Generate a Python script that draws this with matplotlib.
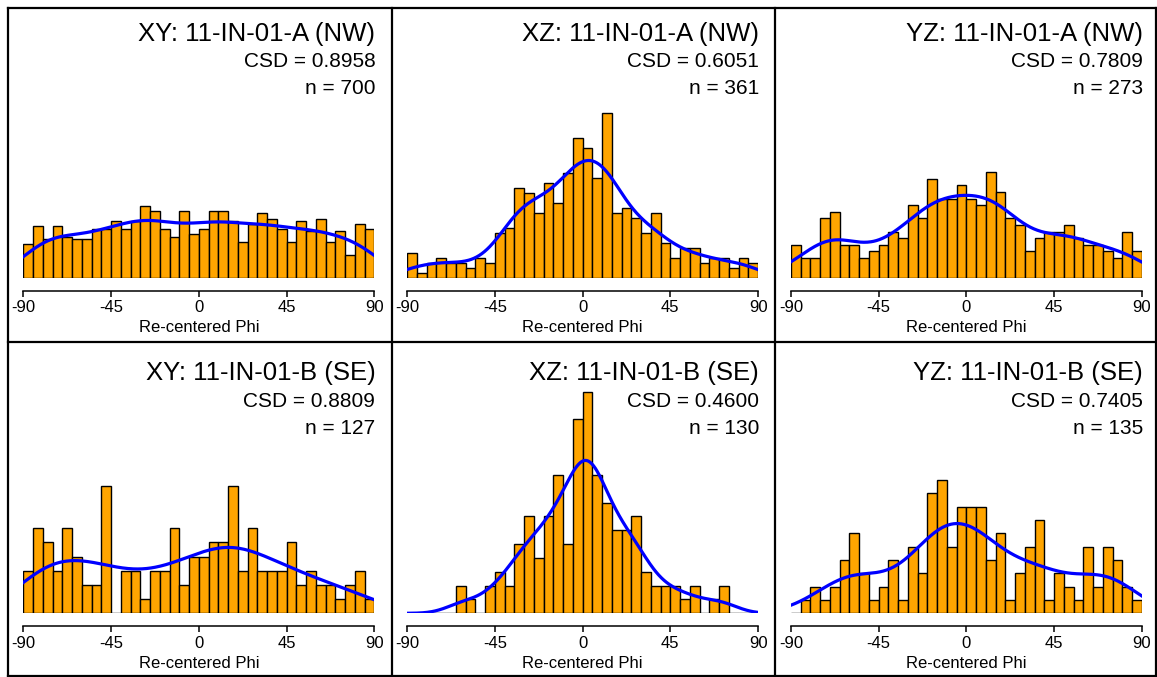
import numpy as np
import matplotlib
matplotlib.use("Agg")
import matplotlib.pyplot as plt
from matplotlib.lines import Line2D

plt.rcParams['font.family'] = ['Liberation Sans', 'DejaVu Sans']

# 5 degree bins from -90 to 90
bin_edges = np.arange(-90, 91, 5)
tick_values = [-90, -45, 0, 45, 90]

titles = ["XY: 11-IN-01-A (NW)", "XZ: 11-IN-01-A (NW)", "YZ: 11-IN-01-A (NW)",
          "XY: 11-IN-01-B (SE)", "XZ: 11-IN-01-B (SE)", "YZ: 11-IN-01-B (SE)"]
csd_values = ["0.8958", "0.6051", "0.7809", "0.8809", "0.4600", "0.7405"]
n_values = [700, 361, 273, 127, 130, 135]

counts_xy_a = [13, 20, 15, 20, 16, 15, 15, 19, 19, 22, 19, 22, 28, 26, 19, 16, 26, 17,
               19, 26, 26, 22, 14, 21, 25, 23, 19, 14, 22, 18, 23, 14, 18, 9, 21, 19]
counts_xz_a = [5, 1, 3, 4, 3, 3, 2, 4, 3, 9, 10, 18, 17, 13, 19, 15, 21, 28,
               26, 20, 33, 13, 14, 12, 9, 13, 7, 4, 6, 6, 3, 4, 4, 2, 4, 3]
counts_yz_a = [5, 3, 3, 9, 10, 5, 5, 3, 4, 5, 7, 6, 11, 9, 15, 12, 12, 14,
               12, 11, 16, 13, 9, 8, 4, 6, 7, 7, 8, 6, 5, 5, 4, 3, 7, 4]
counts_xy_b = [3, 6, 5, 3, 6, 4, 2, 2, 9, 0, 3, 3, 1, 3, 3, 6, 2, 4,
               4, 5, 5, 9, 3, 6, 3, 3, 3, 5, 2, 3, 2, 2, 1, 2, 3, 1]
counts_xz_b = [0, 0, 0, 0, 0, 2, 1, 0, 2, 3, 2, 5, 7, 4, 7, 10, 5, 14,
               16, 10, 8, 6, 6, 7, 3, 2, 2, 2, 1, 2, 0, 1, 2, 0, 0, 0]
counts_yz_b = [0, 1, 2, 1, 2, 4, 6, 3, 1, 2, 4, 1, 5, 3, 9, 10, 5, 8,
               8, 8, 4, 6, 1, 3, 5, 7, 1, 3, 2, 1, 5, 2, 5, 4, 2, 1]

all_counts = [counts_xy_a, counts_xz_a, counts_yz_a, counts_xy_b, counts_xz_b, counts_yz_b]


def kde_curve(counts, grid):
    # gaussian kde of the binned angles, bandwidth like R's bw.nrd0
    centers = (bin_edges[:-1] + bin_edges[1:]) / 2
    samples = np.repeat(centers, counts)
    sd = samples.std(ddof=1)
    iqr = np.subtract(*np.percentile(samples, [75, 25]))
    bw = 0.9 * min(sd, iqr / 1.34) * len(samples) ** (-0.2)
    z = (grid[:, None] - samples[None, :]) / bw
    return np.exp(-0.5 * z ** 2).sum(axis=1) / (len(samples) * bw * np.sqrt(2 * np.pi))


W, H = 1157, 677
fig = plt.figure(figsize=(W / 100, H / 100), dpi=100)


def fx(px):
    return px / W


def fy(py):
    return 1 - py / H


grid = np.linspace(-90, 90, 400)
title_base = [41, 380]
csd_base = [67, 407]
n_base = [94, 434]

for i, counts in enumerate(all_counts):
    row, col = divmod(i, 3)
    left = 23.3 + col * 383.8
    right = left + 351
    base = 277.7 + row * 335.6
    top = base - 270
    ax = fig.add_axes([fx(left), fy(base), fx(right - left), (base - top) / H])

    n = n_values[i]
    dens = np.array(counts) / (n * 5.0)
    ax.bar(bin_edges[:-1], dens, width=5, align='edge', color='#FFA500',
           edgecolor='black', linewidth=1.0)
    ax.plot(grid, kde_curve(counts, grid), color='#0000FF', lw=2.3)

    ax.set_xlim(-90, 90)
    ax.set_ylim(0, 0.03)
    for s in ['top', 'left', 'right']:
        ax.spines[s].set_visible(False)
    ax.spines['bottom'].set_position(('outward', 9.4))
    ax.spines['bottom'].set_linewidth(1.1)
    ax.set_yticks([])
    ax.set_xticks(tick_values)
    ax.set_xticklabels([str(t) for t in tick_values])
    ax.tick_params(axis='x', direction='out', length=4.5, width=1.1, labelsize=12, pad=2.5)
    ax.set_xlabel("Re-centered Phi", fontsize=12, labelpad=3.5)
    ax.patch.set_alpha(0)

    fig.text(fx(right + 1), fy(title_base[row]), titles[i], fontsize=18.5,
             ha='right', va='baseline')
    fig.text(fx(right + 1), fy(csd_base[row]), "CSD = " + csd_values[i], fontsize=15,
             ha='right', va='baseline')
    fig.text(fx(right + 1), fy(n_base[row]), "n = %d" % n, fontsize=15,
             ha='right', va='baseline')

# panel frames
frame_x = [8, 391.7, 775, 1155.8]
frame_y = [8, 341.7, 675.8]
for x in frame_x:
    fig.add_artist(Line2D([fx(x), fx(x)], [fy(frame_y[0]), fy(frame_y[-1])],
                          color='black', lw=1.6))
for y in frame_y:
    fig.add_artist(Line2D([fx(frame_x[0]), fx(frame_x[-1])], [fy(y), fy(y)],
                          color='black', lw=1.6))

fig.savefig("out.png", dpi=100)
